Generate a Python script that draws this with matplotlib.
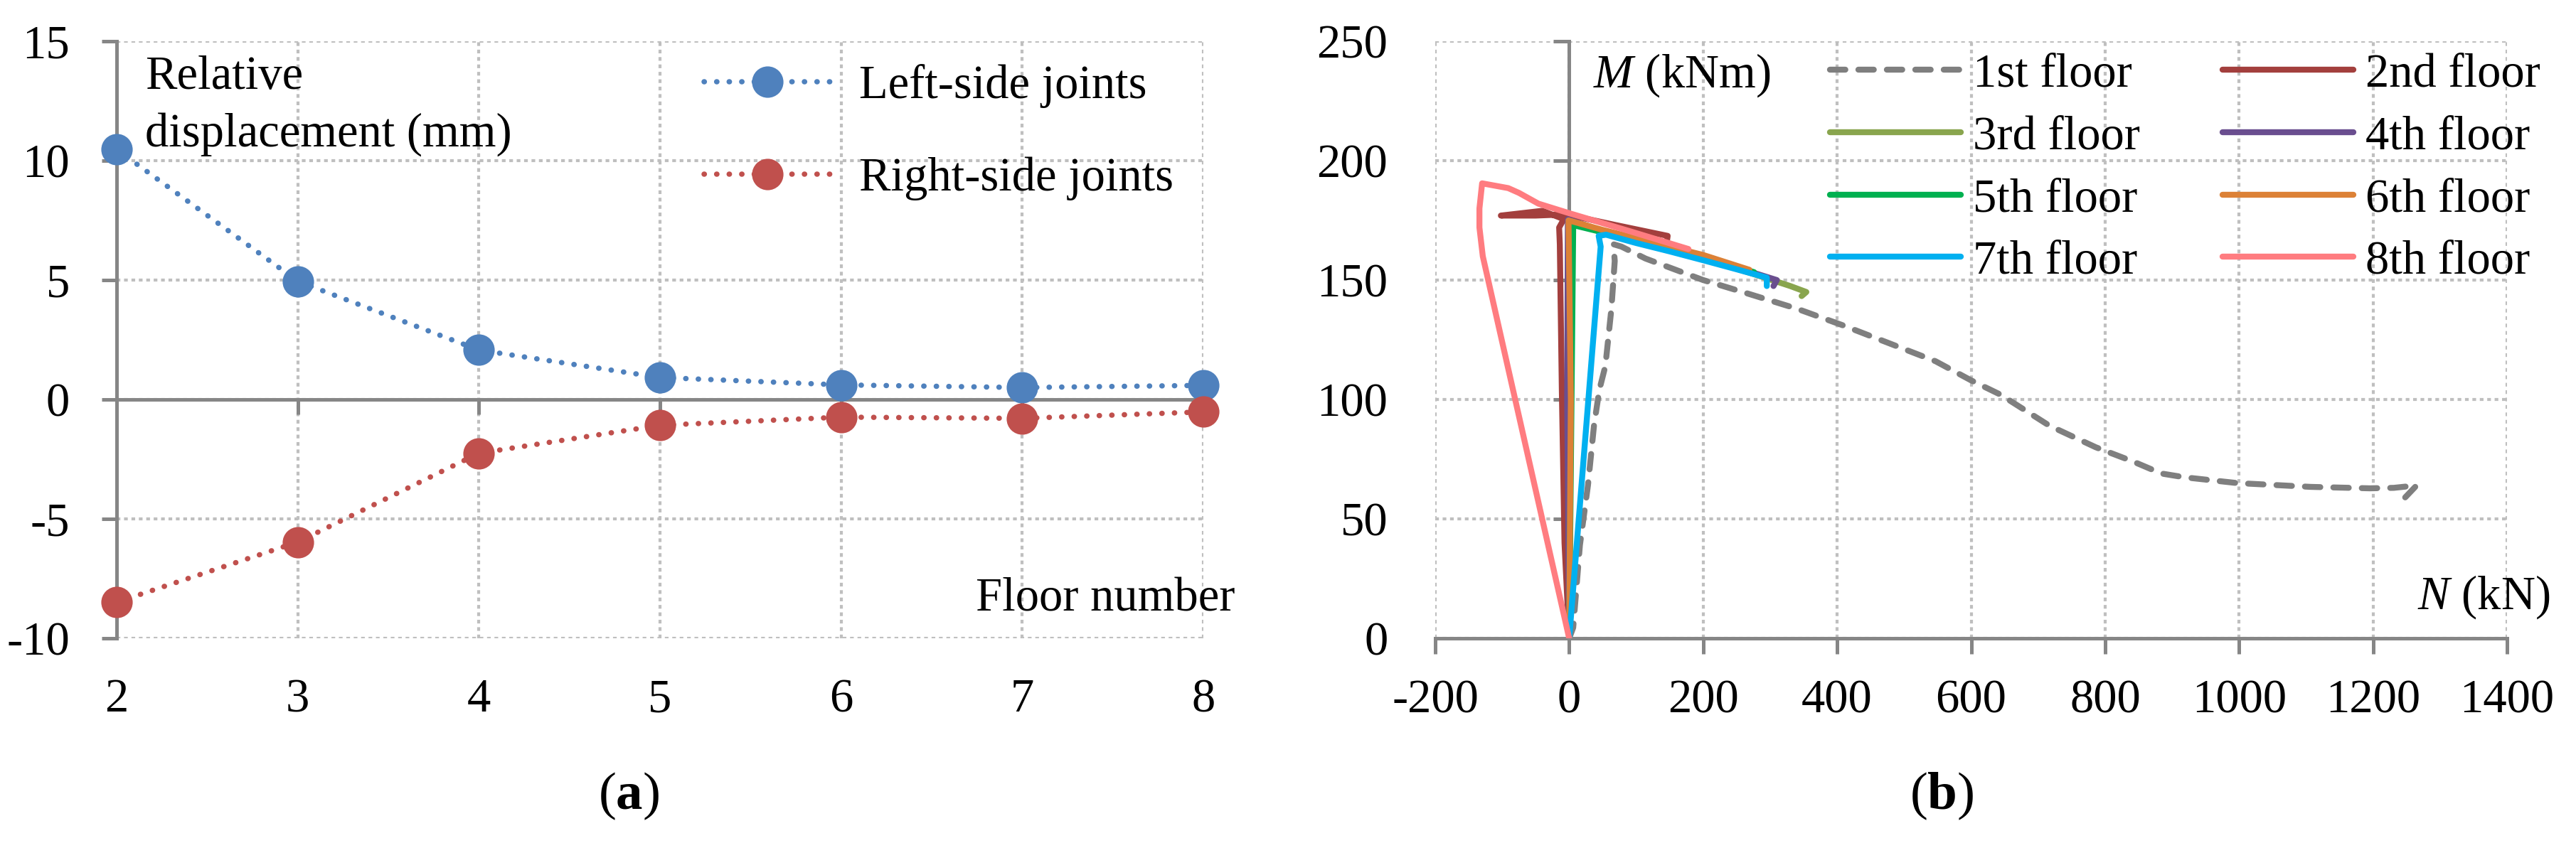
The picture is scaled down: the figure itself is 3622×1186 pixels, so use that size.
import matplotlib
matplotlib.use('Agg')
import matplotlib.pyplot as plt
from matplotlib.font_manager import FontProperties

# --- fonts ---
plt.rcParams['font.family'] = 'serif'
plt.rcParams['font.serif'] = ['Liberation Serif', 'DejaVu Serif']
plt.rcParams['mathtext.fontset'] = 'custom'
plt.rcParams['mathtext.rm'] = 'Liberation Serif'
plt.rcParams['mathtext.it'] = 'Liberation Serif:italic'
plt.rcParams['mathtext.bf'] = 'Liberation Serif:bold'
plt.rcParams['axes.unicode_minus'] = False

FS = 16
fp = FontProperties(family='Liberation Serif', size=FS)
fp_cap = FontProperties(family='Liberation Serif', size=18)
AXIS_GRAY = '#868686'
GRID_GRAY = '#BFBFBF'

# --- (a) relative displacement of joints ---
floors = [2, 3, 4, 5, 6, 7, 8]
left_side = [10.47, 4.95, 2.07, 0.92, 0.61, 0.50, 0.59]
right_side = [-8.49, -5.97, -2.25, -1.08, -0.74, -0.79, -0.52]
disp_ticks = [-10, -5, 0, 5, 10, 15]

# --- (b) M-N paths for each floor ---
n1 = [0, 6, 16, 28, 37, 45, 54, 63, 68, 66, 78, 114, 200, 259, 340, 409, 478,
      547, 600, 644, 717, 786, 842, 884, 919, 997, 1107, 1195, 1231, 1265, 1248]
m1 = [0, 4.5, 39, 64, 89, 104, 114, 138, 158, 165, 164, 159, 150, 145, 138, 131,
      123.5, 116, 108, 102, 89, 80, 74, 69, 67.4, 65, 63.4, 62.8, 63, 64, 59]
n2 = [0, -7, -11, -14, -15, -8, -40, -102, -50, -5, 70, 147, 146]
m2 = [0, 40, 104, 165, 172, 175.5, 179, 177, 177, 177.5, 173, 168.5, 166.5]
n3 = [0, 2, 3, 50, 100, 150, 200, 270, 330, 354, 347]
m3 = [0, 100, 175, 170, 166, 162.5, 159, 153, 147.5, 145, 143.3]
n4 = [0, -3, -2, 50, 100, 150, 200, 270, 310, 305]
m4 = [0, 100, 175.5, 170.5, 166.5, 163, 159.5, 153.5, 150, 147.5]
n5 = [0, 6, 50, 100, 150, 200, 276]
m5 = [0, 173, 170, 166.5, 163, 159.5, 153.3]
n6 = [0, 2.5, -1, 50, 100, 150, 200, 269]
m6 = [0, 100, 175, 171, 167.5, 164, 160.5, 154.3]
n7 = [0, 47, 44, 55, 100, 150, 200, 250, 295, 295]
m7 = [0, 164, 168.5, 169, 165.5, 162, 158.3, 154.5, 151, 147.5]
n8 = [0, -129, -134, -134, -130, -91, -75, -46, 0, 90, 178]
m8 = [0, 160, 172, 180, 190.5, 188.5, 186.5, 182, 178, 170.5, 163]

floor_labels = ['1st floor', '2nd floor', '3rd floor', '4th floor',
                '5th floor', '6th floor', '7th floor', '8th floor']
floor_colors = ['#7F7F7F', '#A33F3D', '#89A54E', '#6A4E8F',
                '#00B050', '#DC8136', '#00B0F0', '#FF7C80']
n_ticks = [-200, 0, 200, 400, 600, 800, 1000, 1200, 1400]
m_ticks = [0, 50, 100, 150, 200, 250]

fig = plt.figure(figsize=(3622 / 300, 1186 / 300), dpi=300)
ax1 = fig.add_axes([0.04528, 0.24283, 0.42186, 0.70826])
ax2 = fig.add_axes([0.55715, 0.24283, 0.41607, 0.70826])


def grid_style(ax):
    ax.grid(True, color=GRID_GRAY, linestyle=(0, (1.25, 1.25)), linewidth=1.0)
    for s in ['top', 'right']:
        ax.spines[s].set_visible(False)
    for s in ['left', 'bottom']:
        ax.spines[s].set_color(AXIS_GRAY)
        ax.spines[s].set_linewidth(1.2)


def serif_ticks(ax):
    for lab in ax.get_xticklabels() + ax.get_yticklabels():
        lab.set_fontproperties(fp)


# ---------- panel (a) ----------
grid_style(ax1)
ax1.set_xlim(2, 8)
ax1.set_ylim(-10, 15)
ax1.spines['bottom'].set_position(('data', 0))
ax1.set_xticks(floors)
ax1.set_yticks(disp_ticks)
ax1.tick_params(axis='both', direction='out', length=5, width=1.2,
                color=AXIS_GRAY, labelsize=FS)
ax1.tick_params(axis='x', labelbottom=False)
ax1.tick_params(axis='y', pad=10.8)
serif_ticks(ax1)

sec_x = ax1.secondary_xaxis('bottom')
sec_x.set_xticks(floors)
sec_x.tick_params(length=0, pad=13.5, labelsize=FS)
sec_x.spines['bottom'].set_visible(False)
serif_ticks(sec_x)

dot = (0, (0.05, 2.3))
l1, = ax1.plot(floors, left_side, color='#4F81BD', lw=1.8, linestyle=dot,
               dash_capstyle='round', marker='o', markersize=9.6,
               clip_on=False, zorder=4, label='Left-side joints')
l2, = ax1.plot(floors, right_side, color='#C0504D', lw=1.8, linestyle=dot,
               dash_capstyle='round', marker='o', markersize=9.6,
               clip_on=False, zorder=4, label='Right-side joints')
ax1.legend(handles=[l1, l2], loc='upper left', bbox_to_anchor=(0.5406, 0.962),
           frameon=False, prop=fp, handlelength=2.67, handletextpad=0.6,
           labelspacing=1.03, borderpad=0, borderaxespad=0)

ax1.text(0.026, 0.976, 'Relative\ndisplacement (mm)', transform=ax1.transAxes,
         ha='left', va='top', fontproperties=fp, linespacing=1.4)
ax1.text(1.029, 0.065, 'Floor number', transform=ax1.transAxes,
         ha='right', va='center', fontproperties=fp)

# ---------- panel (b) ----------
grid_style(ax2)
ax2.set_xlim(-200, 1400)
ax2.set_ylim(0, 250)
ax2.spines['left'].set_position(('data', 0))
ax2.set_xticks(n_ticks)
ax2.set_yticks(m_ticks)
ax2.tick_params(axis='both', direction='out', length=5.3, width=1.2,
                color=AXIS_GRAY, labelsize=FS)
ax2.tick_params(axis='y', labelleft=False)
ax2.tick_params(axis='x', pad=8.5)
serif_ticks(ax2)

sec_y = ax2.secondary_yaxis('left')
sec_y.set_yticks(m_ticks)
sec_y.tick_params(length=0, pad=16, labelsize=FS)
sec_y.spines['left'].set_visible(False)
serif_ticks(sec_y)

series = [(n1, m1), (n2, m2), (n3, m3), (n4, m4),
          (n5, m5), (n6, m6), (n7, m7), (n8, m8)]
handles = []
for i, (nn, mm) in enumerate(series):
    if i == 0:
        h, = ax2.plot(nn, mm, color=floor_colors[i], lw=2.0,
                      dashes=(2.6, 2.2), dash_capstyle='round',
                      solid_joinstyle='round', zorder=3, label=floor_labels[i])
    else:
        h, = ax2.plot(nn, mm, color=floor_colors[i], lw=2.0,
                      solid_joinstyle='round', solid_capstyle='round',
                      zorder=3 + i * 0.1, label=floor_labels[i])
    handles.append(h)

# row-wise legend order: 1st 2nd / 3rd 4th / ...
order = [0, 2, 4, 6, 1, 3, 5, 7]
ax2.legend(handles=[handles[k] for k in order], ncol=2, loc='upper left',
           bbox_to_anchor=(0.3683, 0.980), frameon=False, prop=fp,
           handlelength=2.76, handletextpad=0.25, columnspacing=1.75,
           labelspacing=0.40, borderpad=0, borderaxespad=0)

ax2.text(0.147, 0.943, r'$M$ (kNm)', transform=ax2.transAxes,
         ha='left', va='center', fontproperties=fp)
ax2.text(1.04, 0.069, r'$N$ (kN)', transform=ax2.transAxes,
         ha='right', va='center', fontproperties=fp)

fig.text(0.244, 0.0556, r'($\mathbf{a}$)', ha='center', va='center', fontproperties=fp_cap)
fig.text(0.7537, 0.0556, r'($\mathbf{b}$)', ha='center', va='center', fontproperties=fp_cap)

fig.savefig('out.png', dpi=300)
